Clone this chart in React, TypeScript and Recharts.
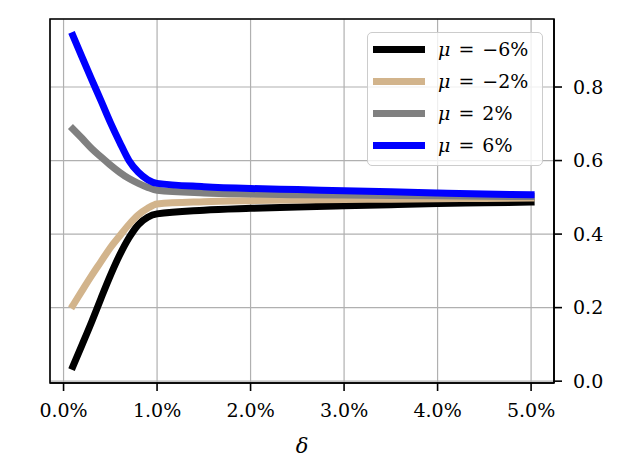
import React from "react";
import {
  LineChart,
  Line,
  XAxis,
  YAxis,
  CartesianGrid,
  ReferenceArea,
} from "recharts";

// delta in percent
const deltas = [0.1, 0.2, 0.3, 0.4, 0.5, 0.6, 0.7, 0.8, 0.9, 1.0, 1.5, 2.0, 2.5, 3.0, 3.5, 4.0, 4.5, 5.0];

const muMinus6 = [0.04, 0.1, 0.161, 0.225, 0.287, 0.343, 0.39, 0.426, 0.446, 0.455, 0.465, 0.47, 0.474, 0.477, 0.48, 0.483, 0.485, 0.487];
const muMinus2 = [0.206, 0.247, 0.287, 0.325, 0.363, 0.395, 0.426, 0.452, 0.47, 0.482, 0.488, 0.491, 0.493, 0.494, 0.495, 0.496, 0.497, 0.498];
const muPlus2 = [0.686, 0.66, 0.633, 0.61, 0.588, 0.568, 0.551, 0.538, 0.527, 0.519, 0.512, 0.509, 0.507, 0.506, 0.505, 0.504, 0.503, 0.502];
const muPlus6 = [0.94, 0.88, 0.821, 0.763, 0.704, 0.65, 0.6, 0.568, 0.548, 0.538, 0.529, 0.524, 0.521, 0.518, 0.515, 0.512, 0.509, 0.507];

const xTicks = [0, 1, 2, 3, 4, 5];
const yTicks = [0, 0.2, 0.4, 0.6, 0.8];

const series = [
  { key: "m6", label: "\u22126%", color: "#000000", values: muMinus6 },
  { key: "m2", label: "\u22122%", color: "#d2b48c", values: muMinus2 },
  { key: "p2", label: "2%", color: "#808080", values: muPlus2 },
  { key: "p6", label: "6%", color: "#0000ff", values: muPlus6 },
];

const data = deltas.map((d, i) => {
  const row: Record<string, number> = { d };
  series.forEach((s) => (row[s.key] = s.values[i]));
  return row;
});

const FONT = "'DejaVu Serif', 'Liberation Serif', serif";
const X_DOMAIN = [-0.145, 5.245];
const Y_DOMAIN = [-0.005, 0.985];

export default function App() {
  return (
    <div style={{ position: "absolute", left: 0, top: 0, width: 624, height: 474, background: "#fff" }}>
      <LineChart
        width={624}
        height={474}
        data={data}
        margin={{ top: 19, right: 0, bottom: 0, left: 50 }}
        style={{ fontFamily: FONT }}
      >
        <CartesianGrid stroke="#b0b0b0" strokeWidth={1.2} />
        <XAxis
          dataKey="d"
          type="number"
          domain={X_DOMAIN}
          ticks={xTicks}
          allowDataOverflow
          height={91}
          tickFormatter={(v: number) => v.toFixed(1) + "%"}
          tick={{ fill: "#000", fontSize: 19, fontFamily: FONT }}
          tickSize={8}
          tickMargin={13}
          tickLine={{ stroke: "#000", strokeWidth: 1.6 }}
          axisLine={{ stroke: "#000", strokeWidth: 1.6 }}
          label={{
            content: ({ viewBox }: any) => (
              <text
                x={viewBox.x + viewBox.width / 2}
                y={viewBox.y + 70}
                textAnchor="middle"
                fontSize={21}
                fontStyle="italic"
                fontFamily={FONT}
              >
                δ
              </text>
            ),
          }}
        />
        <YAxis
          orientation="right"
          type="number"
          domain={Y_DOMAIN}
          ticks={yTicks}
          allowDataOverflow
          width={70}
          tickFormatter={(v: number) => v.toFixed(1)}
          tick={{ fill: "#000", fontSize: 19, fontFamily: FONT, textAnchor: "start" }}
          tickSize={8}
          tickMargin={11}
          tickLine={{ stroke: "#000", strokeWidth: 1.6 }}
          axisLine={{ stroke: "#000", strokeWidth: 1.6 }}
        />
        <YAxis
          yAxisId="left"
          orientation="left"
          type="number"
          domain={Y_DOMAIN}
          width={0}
          tick={false}
          tickLine={false}
          axisLine={{ stroke: "#000", strokeWidth: 1.6 }}
          label={{
            content: ({ viewBox }: any) => {
              const x = viewBox.x - 16;
              const y = viewBox.y + viewBox.height / 2 + 2;
              return (
                <text
                  transform={`translate(${x},${y}) rotate(-90)`}
                  textAnchor="middle"
                  fontSize={21}
                  fontFamily={FONT}
                >
                  <tspan fontStyle="italic">ρ</tspan>
                  <tspan fontSize={13} dy={-9} fontFamily="'DejaVu Sans', sans-serif">
                    ⋆
                  </tspan>
                </text>
              );
            },
          }}
        />
        <ReferenceArea
          x1={X_DOMAIN[0]}
          x2={X_DOMAIN[1]}
          y1={Y_DOMAIN[0]}
          y2={Y_DOMAIN[1]}
          fill="none"
          fillOpacity={0}
          stroke="#000"
          strokeWidth={1.6}
          ifOverflow="visible"
        />
        {series.map((s) => (
          <Line
            key={s.key}
            dataKey={s.key}
            type="monotoneX"
            stroke={s.color}
            strokeWidth={7}
            strokeLinecap="square"
            strokeLinejoin="round"
            dot={false}
            activeDot={false}
            isAnimationActive={false}
          />
        ))}
      </LineChart>
      <div
        style={{
          position: "absolute",
          left: 367,
          top: 32,
          width: 174,
          height: 132,
          border: "1px solid #cccccc",
          borderRadius: 5,
          background: "rgba(255,255,255,0.8)",
          fontFamily: FONT,
          fontSize: 19,
        }}
      >
        {series.map((s) => (
          <div key={s.key} style={{ height: 32, display: "flex", alignItems: "center" }}>
            <div style={{ width: 52, height: 7, background: s.color, marginLeft: 5, marginRight: 13 }} />
            <span style={{ wordSpacing: 2 }}>
              <i>μ</i> = {s.label}
            </span>
          </div>
        ))}
      </div>
    </div>
  );
}
